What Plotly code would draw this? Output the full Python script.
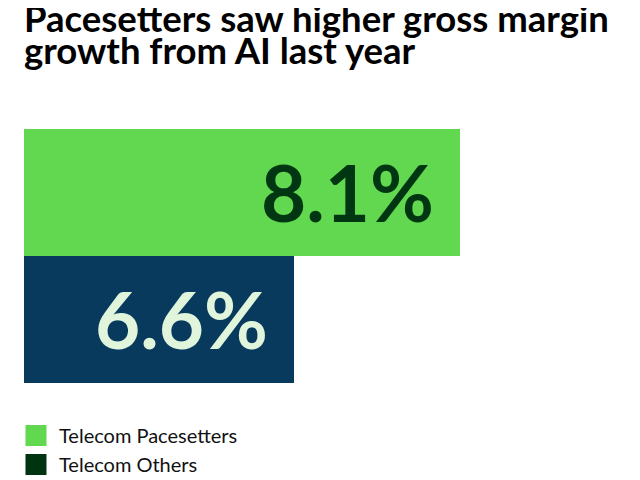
import plotly.graph_objects as go

# values
categories = ["Telecom Pacesetters", "Telecom Others"]
values = [8.1, 6.6]
labels = ["8.1%", "6.6%"]
title_lines = ["Pacesetters saw higher gross margin", "growth from AI last year"]

bar_colors = ["#62d851", "#073a5c"]
label_colors = ["#003612", "#e0f5dc"]
legend_colors = ["#62d851", "#00330f"]

fig = go.Figure()

for cat, val, col in zip(categories, values, bar_colors):
    fig.add_trace(go.Bar(
        x=[val], y=[cat], orientation="h",
        marker=dict(color=col, line=dict(width=0)),
        showlegend=False, hoverinfo="skip",
    ))

# legend entries (the reference uses a dark green swatch for Others)
for i, (cat, col) in enumerate(zip(categories, legend_colors)):
    fig.add_trace(go.Scatter(
        x=[None], y=[None], mode="markers", name=cat,
        marker=dict(symbol="square", size=16, color=col,
                    line=dict(width=5, color=col)),
        legendgroup=f"g{i}",
    ))

for cat, val, lab, col in zip(categories, values, labels, label_colors):
    fig.add_annotation(
        x=val, y=cat, text=f"<b>{lab}</b>", showarrow=False,
        xanchor="right", yanchor="middle", xshift=-24,
        font=dict(family="Lato", size=78, color=col),
    )

# two title lines, tighter leading than plotly's <br>
for line, ypos in zip(title_lines, [0.929792, 0.863125]):
    fig.add_annotation(
        x=0.021875, xref="paper", xanchor="left",
        y=ypos, yref="paper", yanchor="bottom",
        text=f"<b>{line}</b>", showarrow=False,
        font=dict(family="Lato", size=36.5, color="#000000"),
    )

# margins at zero, the plot sits where the axis domains put it
fig.update_layout(
    width=640, height=480,
    margin=dict(l=0, r=0, t=0, b=0, pad=0),
    paper_bgcolor="white", plot_bgcolor="white",
    bargap=0,
    xaxis=dict(range=[4.153, 9.501], domain=[0.025, 0.948438],
               visible=False, fixedrange=True),
    yaxis=dict(autorange="reversed", domain=[0.21875, 0.747917],
               visible=False, fixedrange=True),
    legend=dict(
        x=0.0078, xanchor="left", y=0.15, yanchor="top",
        font=dict(family="Lato", size=20, color="#111111"),
        itemwidth=36, tracegroupgap=0, bgcolor="rgba(0,0,0,0)",
    ),
    showlegend=True,
)

fig.write_html("out.html")
